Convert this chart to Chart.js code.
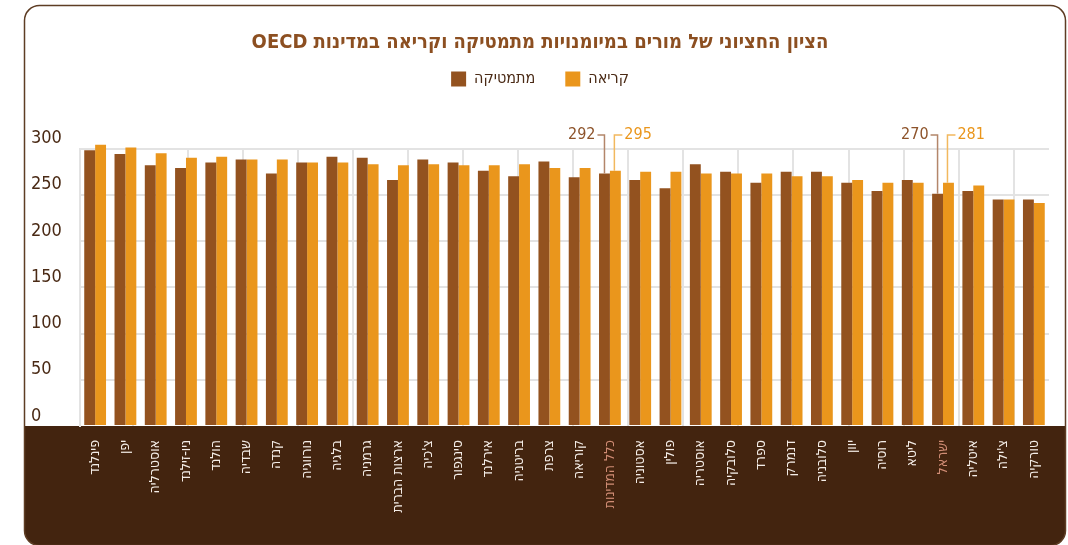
<!DOCTYPE html>
<html lang="he">
<head>
<meta charset="utf-8">
<script src="https://cdn.jsdelivr.net/npm/chart.js@4.4.1/dist/chart.umd.min.js"></script>
<style>
  html, body { margin: 0; padding: 0; background: #fff; }
  #wrap { width: 1068px; height: 545px; }
</style>
</head>
<body>
<div id="wrap"><canvas id="teachersChart" dir="rtl" width="1068" height="545"></canvas></div>
<script>
const countries = [
    'פינלנד', 'יפן', 'אוסטרליה', 'ניו-זילנד', 'הולנד', 'שבדיה', 'קנדה', 'נורווגיה',
    'בלגיה', 'גרמניה', 'ארצות הברית', "צ'כיה", 'סינגפור', 'אירלנד', 'בריטניה', 'צרפת',
    'קוריאה', 'כלל המדינות', 'אסטוניה', 'פולין', 'אוסטריה', 'סלובקיה', 'ספרד', 'דנמרק',
    'סלובניה', 'יוון', 'רוסיה', 'ליטא', 'ישראל', 'איטליה', "צ'ילה", 'טורקיה'
];
const mathScores = [
    298, 294, 282, 279, 285, 288, 273, 285, 291, 290, 266, 288, 285, 276, 270, 286,
    269, 273, 266, 257, 283, 275, 263, 275, 275, 263, 254, 266, 251, 254, 245, 245
];
const readingScores = [
    304, 301, 295, 290, 291, 288, 288, 285, 285, 283, 282, 283, 282, 282, 283, 279,
    279, 276, 275, 275, 273, 273, 273, 270, 270, 266, 263, 263, 263, 260, 245, 241
];
const yTicks = [0, 50, 100, 150, 200, 250, 300];

// the two highlighted columns and the numbers written above them
const calloutIndex = [17, 28];
const calloutMath = ['292', '270'];
const calloutReading = ['295', '281'];

const narrow = "'DejaVu Sans Condensed', 'DejaVu Sans', sans-serif";
const brown = '#93521f';
const orange = '#ea961c';
const ink = '#4a2a15';
const gridGrey = '#e3e3e3';

// rounded card and the dark band under the axis
const cardPlugin = {
    id: 'card',
    beforeDraw(chart) {
        const { ctx, chartArea } = chart;
        const x0 = 24.5, y0 = 5.5, w = 1041, h = 540, r = 15;
        ctx.save();
        ctx.beginPath();
        ctx.roundRect(x0, y0, w, h, r);
        ctx.fillStyle = '#fff';
        ctx.fill();
        ctx.clip();
        ctx.fillStyle = '#43240f';
        ctx.fillRect(x0, chartArea.bottom, w, y0 + h - chartArea.bottom);
        ctx.restore();

        ctx.save();
        ctx.beginPath();
        ctx.roundRect(x0, y0, w, h, r);
        ctx.strokeStyle = '#5e3d24';
        ctx.lineWidth = 1.5;
        ctx.stroke();
        ctx.restore();
    }
};

const calloutPlugin = {
    id: 'callouts',
    afterDatasetsDraw(chart) {
        const { ctx } = chart;
        const mathBars = chart.getDatasetMeta(0).data;
        const readBars = chart.getDatasetMeta(1).data;
        const labelY = 135;
        ctx.save();
        ctx.font = '16px ' + narrow;
        ctx.textBaseline = 'middle';
        ctx.lineWidth = 1.5;
        calloutIndex.forEach((idx, i) => {
            const m = mathBars[idx];
            const r = readBars[idx];

            ctx.strokeStyle = '#b3866a';
            ctx.beginPath();
            ctx.moveTo(m.x, m.y);
            ctx.lineTo(m.x, labelY);
            ctx.lineTo(m.x - 7, labelY);
            ctx.stroke();
            ctx.fillStyle = '#8d532a';
            ctx.textAlign = 'right';
            ctx.fillText(calloutMath[i], m.x - 9, labelY);

            ctx.strokeStyle = '#f2b85e';
            ctx.beginPath();
            ctx.moveTo(r.x - 1, r.y);
            ctx.lineTo(r.x - 1, labelY);
            ctx.lineTo(r.x + 7, labelY);
            ctx.stroke();
            ctx.fillStyle = orange;
            ctx.textAlign = 'left';
            ctx.fillText(calloutReading[i], r.x + 9, labelY);
        });
        ctx.restore();
    }
};

new Chart(document.getElementById('teachersChart'), {
    type: 'bar',
    data: {
        labels: countries,
        datasets: [
            {
                label: 'מתמטיקה',
                data: mathScores,
                backgroundColor: brown,
                categoryPercentage: 0.72,
                barPercentage: 1,
                clip: false
            },
            {
                label: 'קריאה',
                data: readingScores,
                backgroundColor: orange,
                categoryPercentage: 0.72,
                barPercentage: 1,
                clip: false
            }
        ]
    },
    options: {
        responsive: false,
        animation: false,
        layout: { padding: { top: 8, left: 31, right: 19, bottom: 0 } },
        plugins: {
            title: {
                display: true,
                text: 'הציון החציוני של מורים במיומנויות מתמטיקה וקריאה במדינות OECD',
                color: '#8c4f21',
                font: { size: 20, weight: 'bold', family: narrow },
                padding: { top: 23, bottom: -14 }
            },
            legend: {
                position: 'top',
                labels: {
                    boxWidth: 15,
                    boxHeight: 15,
                    padding: 30,
                    color: ink,
                    font: { size: 16, family: narrow }
                }
            },
            tooltip: { enabled: false }
        },
        scales: {
            x: {
                position: 'bottom',
                grid: { display: false, drawTicks: false },
                border: { display: false },
                ticks: {
                    autoSkip: false,
                    minRotation: 90,
                    maxRotation: 90,
                    padding: 14,
                    font: { size: 14, family: narrow },
                    color: (c) => calloutIndex.includes(c.index) ? '#d08c74' : '#f4ede7'
                },
                afterFit: (s) => { s.height = 119; }
            },
            // background grid columns, not tied to the categories
            grid2: {
                type: 'linear',
                position: 'top',
                min: 0.085,
                max: 16.593,
                ticks: { display: false, stepSize: 1, includeBounds: false },
                grid: { color: gridGrey, lineWidth: 2, drawTicks: false },
                border: { display: false },
                afterFit: (s) => { s.height = 51.5; }
            },
            y: {
                min: 0,
                max: 300,
                afterBuildTicks: (s) => { s.ticks = yTicks.map(v => ({ value: v })); },
                ticks: {
                    color: ink,
                    font: { size: 18, family: narrow },
                    crossAlign: 'far',
                    labelOffset: -10,
                    padding: 0
                },
                grid: {
                    color: (c) => c.tick && c.tick.value === 0 ? 'rgba(0,0,0,0)' : gridGrey,
                    lineWidth: 2,
                    drawTicks: false
                },
                border: { display: true, color: gridGrey, width: 2 },
                afterFit: (s) => { s.width = 49; }
            }
        }
    },
    plugins: [cardPlugin, calloutPlugin]
});
</script>
</body>
</html>
